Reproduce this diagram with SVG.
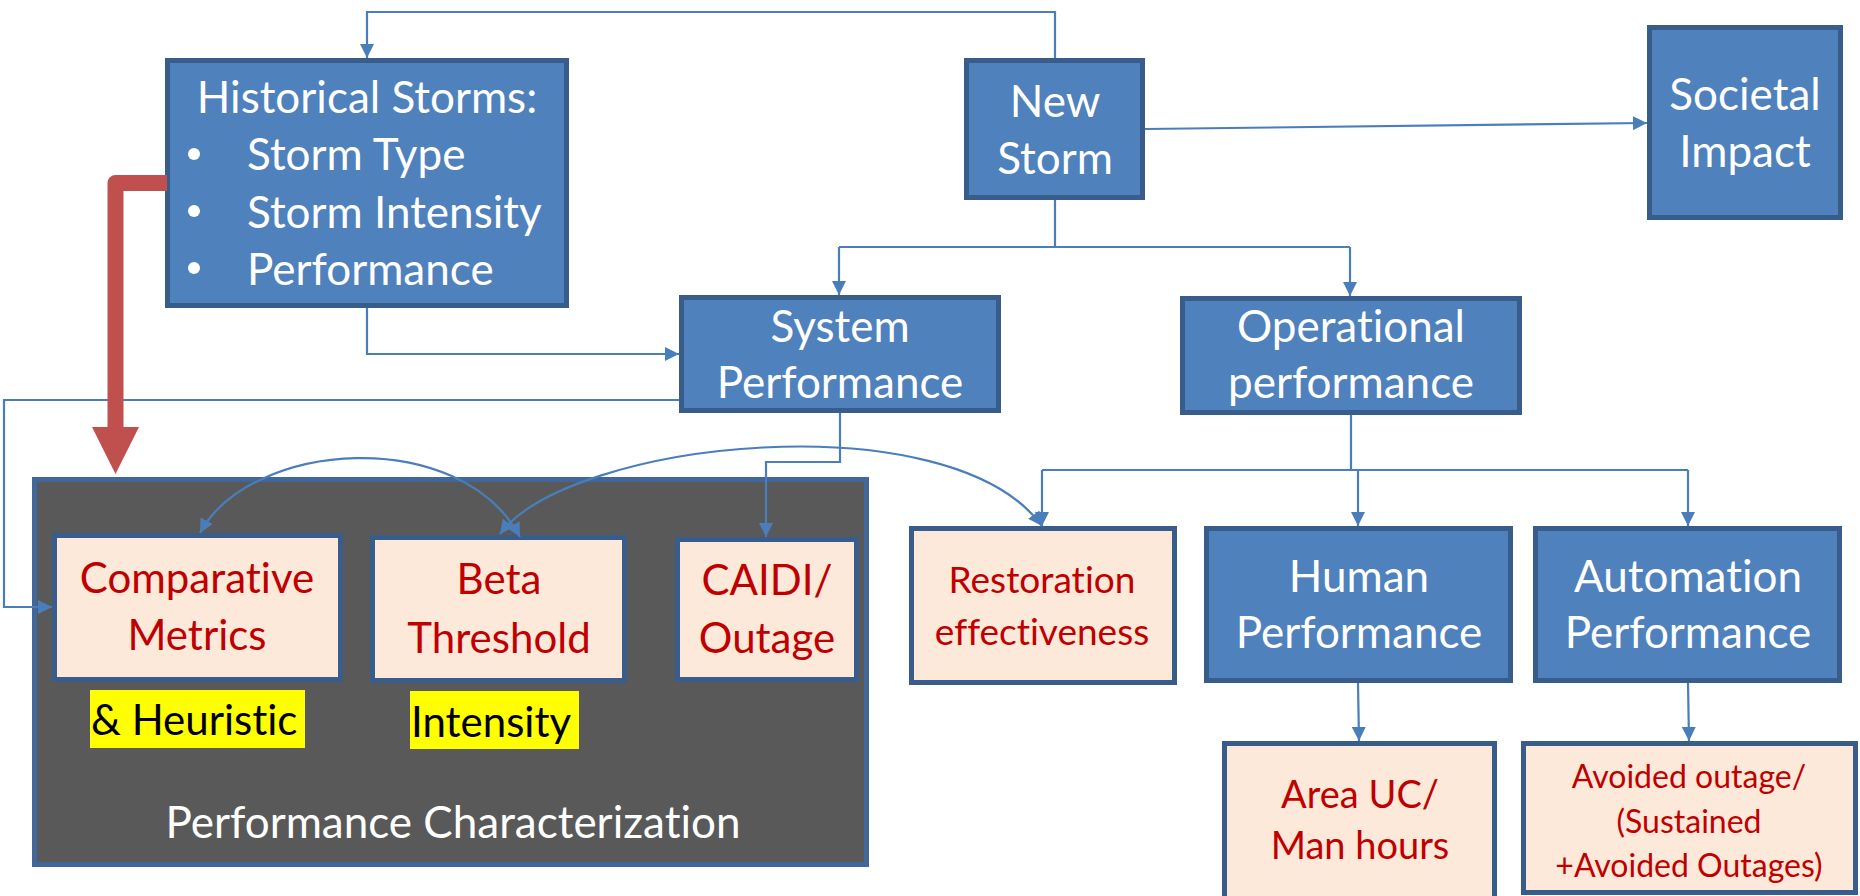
<svg xmlns="http://www.w3.org/2000/svg" width="1860" height="896" viewBox="0 0 1860 896">
<defs>
<marker id="ah" viewBox="0 0 14 14" refX="14" refY="7" markerWidth="14" markerHeight="14" markerUnits="userSpaceOnUse" orient="auto-start-reverse">
<path d="M0,0 L14,7 L0,14 z" fill="#4A7EBB"/>
</marker>
<style>
text{font-variant-ligatures:none;font-feature-settings:"liga" 0,"dlig" 0}
.blue{fill:#4F81BD;stroke:#385D8A;stroke-width:5}
.peach{fill:#FDE9D9;stroke:#385D8A;stroke-width:5}
.gray{fill:#595959;stroke:#41679A;stroke-width:5}
.wt{font-family:Lato,"Liberation Sans",sans-serif;font-size:44px;fill:#FFFFFF;text-anchor:middle}
.rt{font-family:Lato,"Liberation Sans",sans-serif;font-size:42px;fill:#C00000;text-anchor:middle}
.bt{font-family:Lato,"Liberation Sans",sans-serif;font-size:42px;fill:#000000}
.con{fill:none;stroke:#4A7EBB;stroke-width:2.2}
.arr{marker-end:url(#ah)}
.dbl{marker-start:url(#ah);marker-end:url(#ah)}
</style>
</defs>

<g id="performance-characterization">
<rect class="gray" x="34.5" y="479.5" width="832" height="385"/>
<text class="wt" x="453" y="838">Performance Characterization</text>
</g>

<g id="historical-storms">
<rect class="blue" x="167.5" y="60.5" width="399" height="245"/>
<text class="wt" x="367" y="113">Historical Storms:</text>
<circle cx="194" cy="154" r="6" fill="#FFFFFF"/>
<text class="wt" x="247" y="170" style="text-anchor:start">Storm Type</text>
<circle cx="194" cy="211" r="6" fill="#FFFFFF"/>
<text class="wt" x="247" y="228" style="text-anchor:start">Storm Intensity</text>
<circle cx="194" cy="268" r="6" fill="#FFFFFF"/>
<text class="wt" x="247" y="285" style="text-anchor:start">Performance</text>
</g>

<g id="new-storm">
<rect class="blue" x="966.5" y="60.5" width="176" height="137"/>
<text class="wt" x="1055" y="117">New</text>
<text class="wt" x="1055" y="174">Storm</text>
</g>

<g id="societal-impact">
<rect class="blue" x="1649.5" y="27.5" width="191" height="190"/>
<text class="wt" x="1745" y="110">Societal</text>
<text class="wt" x="1745" y="167">Impact</text>
</g>

<g id="system-performance">
<rect class="blue" x="681.5" y="297.5" width="317" height="113"/>
<text class="wt" x="840" y="342">System</text>
<text class="wt" x="840" y="398">Performance</text>
</g>

<g id="operational-performance">
<rect class="blue" x="1182.5" y="298.5" width="337" height="114"/>
<text class="wt" x="1351" y="342">Operational</text>
<text class="wt" x="1351" y="398">performance</text>
</g>

<g id="comparative-metrics">
<rect class="peach" x="54.5" y="535.5" width="286" height="144"/>
<text class="rt" x="197" y="593">Comparative</text>
<text class="rt" x="197" y="650">Metrics</text>
</g>

<g id="heuristic-label">
<rect x="90" y="690" width="215" height="58" fill="#FFFF00"/>
<text class="bt" x="91" y="735">&amp; Heuristic</text>
</g>

<g id="beta-threshold">
<rect class="peach" x="372.5" y="537.5" width="252" height="143"/>
<text class="rt" x="499" y="594">Beta</text>
<text class="rt" x="499" y="653">Threshold</text>
</g>

<g id="intensity-label">
<rect x="410" y="691" width="169" height="58" fill="#FFFF00"/>
<text class="bt" x="411" y="737">Intensity</text>
</g>

<g id="caidi-outage">
<rect class="peach" x="677.5" y="539.5" width="179" height="140"/>
<text class="rt" x="767" y="595">CAIDI/</text>
<text class="rt" x="767" y="653">Outage</text>
</g>

<g id="restoration-effectiveness">
<rect class="peach" x="911.5" y="528.5" width="263" height="154"/>
<text class="rt" x="1042" y="593" style="font-size:37px">Restoration</text>
<text class="rt" x="1042" y="645" style="font-size:37px">effectiveness</text>
</g>

<g id="human-performance">
<rect class="blue" x="1206.5" y="528.5" width="304" height="152"/>
<text class="wt" x="1359" y="592">Human</text>
<text class="wt" x="1359" y="648">Performance</text>
</g>

<g id="automation-performance">
<rect class="blue" x="1535.5" y="528.5" width="304" height="152"/>
<text class="wt" x="1688" y="592">Automation</text>
<text class="wt" x="1688" y="648">Performance</text>
</g>

<g id="area-uc">
<rect class="peach" x="1224.5" y="743.5" width="270" height="160"/>
<text class="rt" x="1360" y="808" style="font-size:38px">Area UC/</text>
<text class="rt" x="1360" y="859" style="font-size:38px">Man hours</text>
</g>

<g id="avoided-outage">
<rect class="peach" x="1523.5" y="743.5" width="332" height="149"/>
<text class="rt" x="1689" y="788" style="font-size:32px">Avoided outage/</text>
<text class="rt" x="1689" y="833" style="font-size:32px">(Sustained</text>
<text class="rt" x="1689" y="877" style="font-size:32px">+Avoided Outages)</text>
</g>

<g id="connectors">
<path class="con arr" d="M1055 58 V12 H367 V58"/>
<path class="con arr" d="M1145 129 L1647 123"/>
<path class="con" d="M1055 200 V247 M839 247 H1350"/>
<path class="con arr" d="M839 247 V295"/>
<path class="con arr" d="M1350 247 V296"/>
<path class="con arr" d="M367 308 V354 H679"/>
<path class="con arr" d="M679 400 H4 V607 H52"/>
<path class="con arr" d="M840 413 V462 H766 V537"/>
<path class="con" d="M1351 415 V470 M1042 470 H1688"/>
<path class="con arr" d="M1042 470 V526"/>
<path class="con arr" d="M1358 470 V526"/>
<path class="con arr" d="M1688 470 V526"/>
<path class="con arr" d="M1358 683 L1359 741"/>
<path class="con arr" d="M1688 683 L1689 741"/>
<path class="con dbl" d="M200 533 C250 440 460 425 520 537"/>
<path class="con dbl" d="M500 534 C570 440 950 400 1042 526"/>
<path d="M167 183 H115.5 V428" fill="none" stroke="#C0504D" stroke-width="16" stroke-linejoin="round"/>
<polygon points="92,427 139,427 115.5,474" fill="#C0504D"/>
</g>
</svg>
